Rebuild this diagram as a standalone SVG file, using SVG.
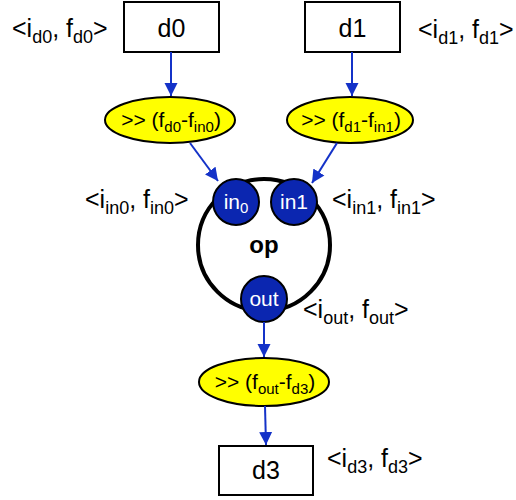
<svg xmlns="http://www.w3.org/2000/svg" width="516" height="500" viewBox="0 0 516 500">
<style>
text{font-family:"Liberation Sans",Arial,sans-serif;fill:#000}
.box{fill:#fff;stroke:#000;stroke-width:2}
.ell{fill:#ffff00;stroke:#000;stroke-width:2}
.port{fill:#0b26b0;stroke:#000;stroke-width:2}
.conn{stroke:#1432c8;stroke-width:2;fill:none;marker-end:url(#ah)}
.lbl{font-size:25px}
.nm{font-size:25px;text-anchor:middle}
.et{font-size:21px;text-anchor:middle}
.pt{font-size:21px;fill:#fff;text-anchor:middle}
.s{font-size:18px}
.s2{font-size:15px}
</style>
<defs>
<marker id="ah" viewBox="0 0 10 10" refX="10" refY="5" markerWidth="13" markerHeight="14" markerUnits="userSpaceOnUse" orient="auto">
<path d="M0,0 L10,5 L0,10 z" fill="#1432c8"/>
</marker>
</defs>

<g id="op">
<circle cx="264" cy="245" r="66" fill="#fff" stroke="#000" stroke-width="4"/>
<text x="264" y="253" style="font-size:24px;font-weight:bold;text-anchor:middle">op</text>
</g>

<g id="d0">
<rect class="box" x="124" y="2" width="95" height="50"/>
<text class="nm" x="171.5" y="37">d0</text>
</g>
<g id="d1">
<rect class="box" x="305" y="2" width="95" height="50"/>
<text class="nm" x="352.5" y="37">d1</text>
</g>
<g id="d3">
<rect class="box" x="219" y="446" width="94" height="49"/>
<text class="nm" x="266" y="479">d3</text>
</g>

<g id="shift0">
<ellipse class="ell" cx="170" cy="120" rx="65" ry="23"/>
<text class="et" x="171" y="127">&gt;&gt; (f<tspan class="s2" dy="5">d0</tspan><tspan dy="-5">-f</tspan><tspan class="s2" dy="5">in0</tspan><tspan dy="-5">)</tspan></text>
</g>
<g id="shift1">
<ellipse class="ell" cx="350" cy="120" rx="63" ry="23"/>
<text class="et" x="351" y="127">&gt;&gt; (f<tspan class="s2" dy="5">d1</tspan><tspan dy="-5">-f</tspan><tspan class="s2" dy="5">in1</tspan><tspan dy="-5">)</tspan></text>
</g>
<g id="shift3">
<ellipse class="ell" cx="264" cy="382" rx="65" ry="24"/>
<text class="et" x="265" y="389">&gt;&gt; (f<tspan class="s2" dy="5">out</tspan><tspan dy="-5">-f</tspan><tspan class="s2" dy="5">d3</tspan><tspan dy="-5">)</tspan></text>
</g>

<g id="in0">
<circle class="port" cx="236" cy="202" r="23"/>
<text class="pt" x="236" y="209">in<tspan style="font-size:15px" dy="4">0</tspan></text>
</g>
<g id="in1">
<circle class="port" cx="294" cy="202" r="23"/>
<text class="pt" x="294" y="209">in1</text>
</g>
<g id="out">
<circle class="port" cx="264" cy="299" r="23"/>
<text class="pt" x="264" y="306">out</text>
</g>

<g id="connectors">
<line class="conn" x1="171" y1="52" x2="171" y2="96"/>
<line class="conn" x1="352" y1="52" x2="352" y2="96"/>
<line class="conn" x1="190" y1="143" x2="218" y2="181"/>
<line class="conn" x1="337" y1="143" x2="312" y2="183"/>
<line class="conn" x1="264" y1="322" x2="264" y2="357"/>
<line class="conn" x1="265" y1="406" x2="266" y2="445"/>
</g>

<g id="labels">
<text class="lbl" x="12" y="37">&lt;i<tspan class="s" dy="6">d0</tspan><tspan dy="-6">, f</tspan><tspan class="s" dy="6">d0</tspan><tspan dy="-6">&gt;</tspan></text>
<text class="lbl" x="418" y="38">&lt;i<tspan class="s" dy="6">d1</tspan><tspan dy="-6">, f</tspan><tspan class="s" dy="6">d1</tspan><tspan dy="-6">&gt;</tspan></text>
<text class="lbl" x="85" y="208">&lt;i<tspan class="s" dy="6">in0</tspan><tspan dy="-6">, f</tspan><tspan class="s" dy="6">in0</tspan><tspan dy="-6">&gt;</tspan></text>
<text class="lbl" x="332" y="208">&lt;i<tspan class="s" dy="6">in1</tspan><tspan dy="-6">, f</tspan><tspan class="s" dy="6">in1</tspan><tspan dy="-6">&gt;</tspan></text>
<text class="lbl" x="303" y="318">&lt;i<tspan class="s" dy="6">out</tspan><tspan dy="-6">, f</tspan><tspan class="s" dy="6">out</tspan><tspan dy="-6">&gt;</tspan></text>
<text class="lbl" x="327" y="467">&lt;i<tspan class="s" dy="6">d3</tspan><tspan dy="-6">, f</tspan><tspan class="s" dy="6">d3</tspan><tspan dy="-6">&gt;</tspan></text>
</g>
</svg>
